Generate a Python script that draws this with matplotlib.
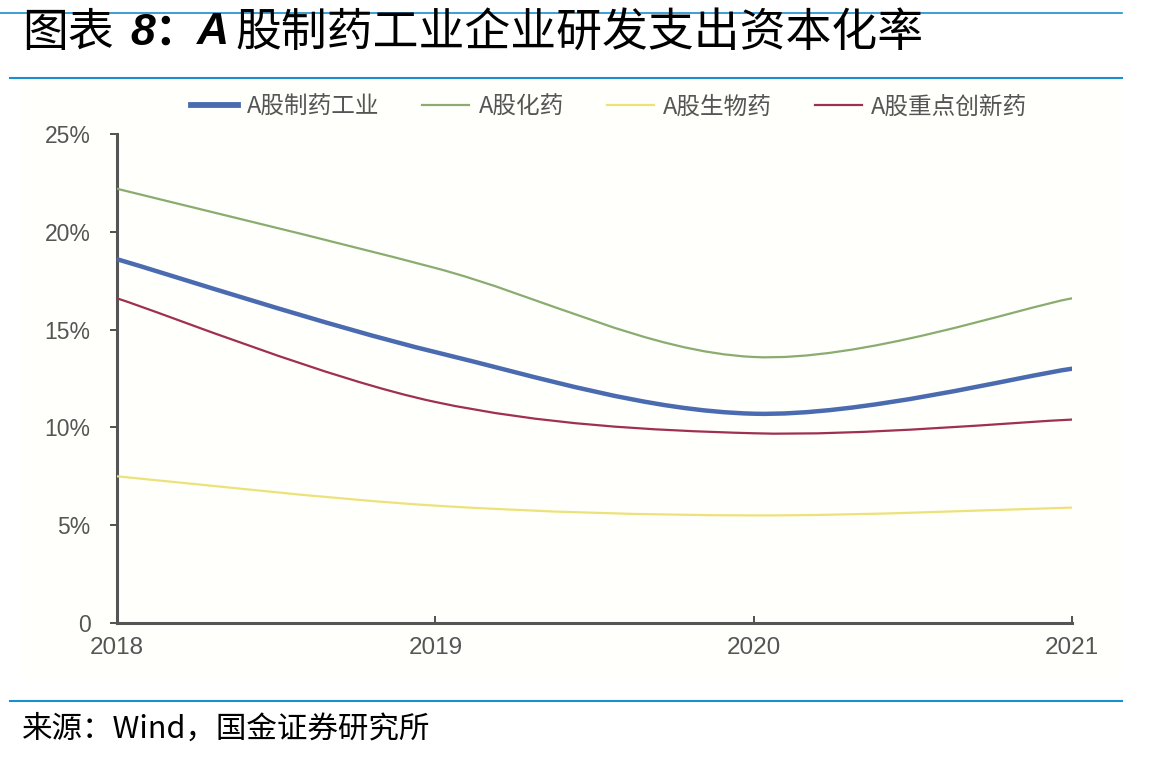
import matplotlib
matplotlib.use("Agg")
import matplotlib.pyplot as plt
from matplotlib.path import Path
from matplotlib.patches import PathPatch
from matplotlib.lines import Line2D
import numpy as np

plt.rcParams['font.family'] = ['Noto Sans CJK SC', 'DejaVu Sans']

years = [2018, 2019, 2020, 2021]
pharma_industry = [18.6, 13.85, 10.7, 13.0]
chem_drug = [22.2, 18.15, 13.6, 16.6]
bio_drug = [7.5, 6.0, 5.5, 5.9]
innov_drug = [16.6, 11.3, 9.7, 10.4]

series_names = ["A股制药工业", "A股化药", "A股生物药", "A股重点创新药"]
series_vals = [pharma_industry, chem_drug, bio_drug, innov_drug]
colors = ["#4a6bb0", "#8aac70", "#ece27a", "#a0304f"]
widths = [3.2, 1.6, 1.6, 1.6]

yticks = [0, 5, 10, 15, 20, 25]
ytick_labels = ["0", "5%", "10%", "15%", "20%", "25%"]

fig = plt.figure(figsize=(11.66, 7.61), dpi=100)
W, H = 1166, 761

def fx(px):
    return px / W

def fy(py):
    return 1 - py / H

# plot area box background
bg = fig.add_axes([fx(20), fy(680), fx(1122) - fx(20), fy(80) - fy(680)])
bg.set_facecolor("#fffffb")
for s in bg.spines.values():
    s.set_visible(False)
bg.set_xticks([]); bg.set_yticks([])

ax = fig.add_axes([fx(117), fy(623), fx(1072) - fx(117), fy(134) - fy(623)])
ax.set_facecolor("none")


def smooth_path(xs, ys):
    xs = np.asarray(xs, float); ys = np.asarray(ys, float)
    n = len(xs)
    verts = [(xs[0], ys[0])]
    codes = [Path.MOVETO]
    for i in range(n - 1):
        p0 = np.array([xs[max(i - 1, 0)], ys[max(i - 1, 0)]])
        p1 = np.array([xs[i], ys[i]])
        p2 = np.array([xs[i + 1], ys[i + 1]])
        p3 = np.array([xs[min(i + 2, n - 1)], ys[min(i + 2, n - 1)]])
        c1 = p1 + (p2 - p0) / 6.0
        c2 = p2 - (p3 - p1) / 6.0
        verts += [tuple(c1), tuple(c2), tuple(p2)]
        codes += [Path.CURVE4] * 3
    return Path(verts, codes)


handles = []
for name, vals, c, lw in zip(series_names, series_vals, colors, widths):
    patch = PathPatch(smooth_path(years, vals), facecolor="none", edgecolor=c,
                      lw=lw, capstyle="round", joinstyle="round", zorder=3)
    ax.add_patch(patch)
    handles.append(Line2D([], [], color=c, lw=lw + 1 if lw > 2 else lw))

ax.set_xlim(years[0], years[-1])
ax.set_ylim(0, 25)
ax.set_xticks(years)
ax.set_xticklabels([str(y) for y in years], family=["Liberation Sans", "DejaVu Sans"],
                   fontsize=17.5, color="#555555")
ax.set_yticks(yticks)
ax.set_yticklabels(ytick_labels, family=["Liberation Sans", "DejaVu Sans"],
                   fontsize=16.5, color="#555555")
ax.tick_params(axis="x", length=5, width=1.2, color="#333333", direction="in", pad=10)
ax.tick_params(axis="y", length=5, width=1.2, color="#333333", direction="out", pad=14)
for s in ["top", "right"]:
    ax.spines[s].set_visible(False)
for s in ["left", "bottom"]:
    ax.spines[s].set_color("#555555")
    ax.spines[s].set_linewidth(2.2)

leg = fig.legend(handles, series_names, loc="center", bbox_to_anchor=(fx(609), fy(107)),
                 ncol=4, frameon=False, fontsize=17, handlelength=2.0, handletextpad=0.4,
                 columnspacing=1.8, labelcolor="#555555")

# title and decorations
fig.text(fx(22), fy(33), "图表", fontsize=33, va="center", ha="left", color="black")
fig.text(fx(130), fy(33), "8：", fontsize=32, va="center", ha="left", color="black",
         fontweight="bold", style="italic", family=["Liberation Sans", "Noto Sans CJK SC"])
fig.text(fx(197), fy(33), "A", fontsize=32, va="center", ha="left", color="black",
         fontweight="bold", style="italic", family=["Liberation Sans"])
fig.text(fx(235), fy(33), "股制药工业企业研发支出资本化率", fontsize=33, va="center",
         ha="left", color="black")

fig.add_artist(Line2D([fx(0), fx(1122)], [fy(13), fy(13)], color="#1a8fd0", lw=1.2))
fig.add_artist(Line2D([fx(10), fx(1122)], [fy(78), fy(78)], color="#1a8fd0", lw=1.5))
fig.add_artist(Line2D([fx(10), fx(1122)], [fy(701), fy(701)], color="#1a8fd0", lw=1.5))

fig.text(fx(22), fy(729), "来源：Wind，国金证券研究所", fontsize=22, va="center", ha="left",
         color="black")

fig.savefig("out.png", dpi=100)
